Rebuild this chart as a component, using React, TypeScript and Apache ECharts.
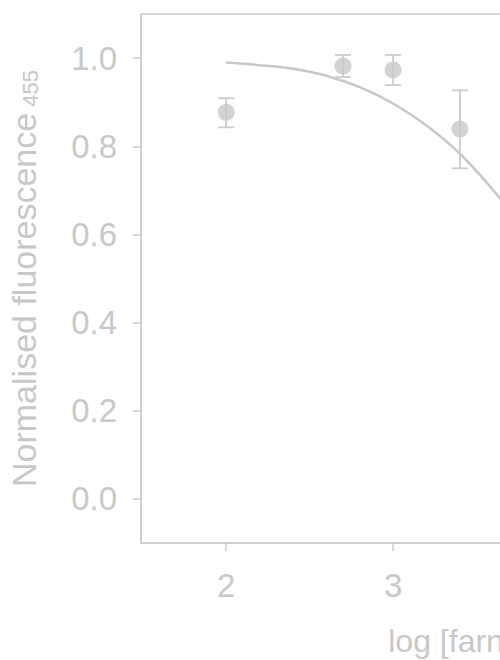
import React, { useEffect, useRef } from "react";
import * as echarts from "echarts";

const pointX = [2, 2.7, 3, 3.4];
const pointY = [0.877, 0.982, 0.973, 0.839];
const errLow = [0.843, 0.957, 0.939, 0.75];
const errHigh = [0.909, 1.007, 1.007, 0.927];

const curveX = [2.0, 2.2, 2.4, 2.6, 2.8, 3.0, 3.2, 3.4, 3.6, 3.8, 4.0];
const curveY = [0.99, 0.984, 0.976, 0.96, 0.934, 0.897, 0.847, 0.783, 0.7, 0.605, 0.505];

const xTicks = [2, 3, 4, 5, 6];
const yTicks = [0, 0.2, 0.4, 0.6, 0.8, 1.0];

const GREY = "#c8c8c8";
const LINE = "#cccccc";
const FONT = "Liberation Sans, Arial, sans-serif";

export default function App() {
  const ref = useRef<HTMLDivElement>(null);
  useEffect(() => {
    const chart = echarts.init(ref.current!, null, { renderer: "svg" });
    chart.setOption({
      animation: false,
      backgroundColor: "#ffffff",
      grid: {
        left: 141,
        top: 14,
        right: 106,
        bottom: 117,
        outerBoundsMode: "none",
        containLabel: false,
        show: true,
        borderColor: LINE,
        borderWidth: 1.5,
        backgroundColor: "#ffffff",
      },
      xAxis: {
        type: "value",
        min: 1.49,
        max: 6,
        name: "log [farnesol] (µM)",
        nameLocation: "middle",
        nameGap: 82,
        nameTextStyle: { color: GREY, fontSize: 32, fontFamily: FONT },
        axisLine: { show: true, onZero: false, lineStyle: { color: LINE, width: 1.5 } },
        axisTick: { show: true, length: 8, customValues: xTicks, lineStyle: { color: LINE, width: 1.5 } },
        axisLabel: {
          customValues: xTicks,
          color: GREY,
          fontSize: 33,
          fontFamily: FONT,
          margin: 26,
          formatter: (v: number) => String(v),
        },
        splitLine: { show: false },
      },
      yAxis: {
        type: "value",
        min: -0.1,
        max: 1.1,
        name: "Normalised fluorescence{sub| 455}",
        nameLocation: "middle",
        nameGap: 100,
        nameRotate: 90,
        nameTextStyle: {
          color: GREY,
          fontSize: 34,
          fontFamily: FONT,
          rich: {
            sub: { fontSize: 22, color: GREY, fontFamily: FONT, padding: [12, 0, 0, 0] },
          },
        },
        axisLine: { show: true, onZero: false, lineStyle: { color: LINE, width: 1.5 } },
        axisTick: { show: true, length: 8, customValues: yTicks, lineStyle: { color: LINE, width: 1.5 } },
        axisLabel: {
          customValues: yTicks,
          color: GREY,
          fontSize: 33,
          fontFamily: FONT,
          margin: 24,
          formatter: (v: number) => v.toFixed(1),
        },
        splitLine: { show: false },
      },
      series: [
        {
          type: "line",
          data: curveX.map((x, i) => [x, curveY[i]]),
          smooth: 0.4,
          showSymbol: false,
          symbol: "none",
          lineStyle: { color: GREY, width: 2.5 },
          z: 2,
        },
        {
          type: "custom",
          data: pointX.map((x, i) => [x, errLow[i], errHigh[i]]),
          renderItem: (params: any, api: any) => {
            const x = api.value(0);
            const lo = api.coord([x, api.value(1)]);
            const hi = api.coord([x, api.value(2)]);
            const hw = 8;
            const style = { stroke: LINE, lineWidth: 1.8 };
            return {
              type: "group",
              children: [
                { type: "line", shape: { x1: lo[0], y1: lo[1], x2: hi[0], y2: hi[1] }, style },
                { type: "line", shape: { x1: lo[0] - hw, y1: lo[1], x2: lo[0] + hw, y2: lo[1] }, style },
                { type: "line", shape: { x1: hi[0] - hw, y1: hi[1], x2: hi[0] + hw, y2: hi[1] }, style },
              ],
            };
          },
          z: 3,
        },
        {
          type: "scatter",
          data: pointX.map((x, i) => [x, pointY[i]]),
          symbol: "circle",
          symbolSize: 17,
          itemStyle: { color: GREY },
          z: 4,
        },
      ],
    });
    return () => chart.dispose();
  }, []);
  return (
    <div
      style={{
        position: "fixed",
        left: 0,
        top: 0,
        width: 500,
        height: 660,
        overflow: "hidden",
        background: "#ffffff",
      }}
    >
      <div ref={ref} style={{ width: 1000, height: 660 }} />
    </div>
  );
}
